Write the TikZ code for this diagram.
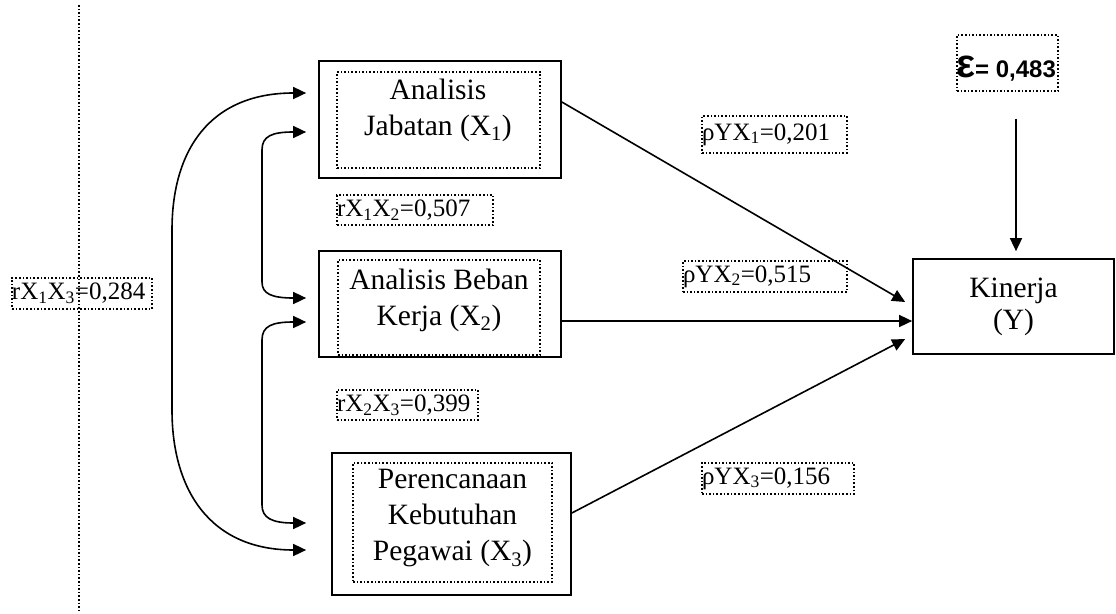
\documentclass[tikz,border=0pt]{standalone}
\usepackage{fontspec}
\setmainfont{Liberation Serif}
\newfontfamily\epsfont{Liberation Sans}
\usetikzlibrary{arrows.meta,calc}
\begin{document}
\begin{tikzpicture}[x=1pt,y=-1pt,
  box/.style={draw,line width=1.7pt,inner sep=0pt},
  dotbox/.style={draw,dotted,line width=1.6pt,inner sep=0pt},
  boxtext/.style={font=\fontsize{29.5}{36}\selectfont,align=center,inner sep=0pt},
  lbl/.style={draw,dotted,line width=1.6pt,inner sep=0pt,align=left,font=\fontsize{25}{28}\selectfont},
  arr/.style={line width=1.6pt,-{Triangle[length=13pt,width=12pt]}},
  darr/.style={line width=1.6pt,{Triangle[length=13pt,width=12pt]}-{Triangle[length=13pt,width=12pt]}}]
\useasboundingbox (0,0) rectangle (1116,613);

% vertical dotted guide line
\coordinate (vtop) at (79,5);
\coordinate (vbot) at (79,613);
\draw[dotted,line width=1.6pt] (vtop) -- (vbot);

% X1
\node[box,minimum width=242pt,minimum height=117pt] (b1) at (440,119.5) {};
\node[dotbox,minimum width=203pt,minimum height=96pt] (i1) at (438.5,120) {};
\node[boxtext] (t1) at (438,110) {Analisis\\Jabatan (X\textsubscript{1})};

% X2
\node[box,minimum width=242pt,minimum height=106pt] (b2) at (440,304) {};
\node[dotbox,minimum width=202pt,minimum height=95pt] (i2) at (439,307.5) {};
\node[boxtext] (t2) at (439,300) {Analisis Beban\\Kerja (X\textsubscript{2})};

% X3
\node[box,minimum width=239pt,minimum height=142pt] (b3) at (451.5,524) {};
\node[dotbox,minimum width=199pt,minimum height=119pt] (i3) at (452.5,522.5) {};
\node[boxtext] (t3) at (452.5,518.5) {Perencanaan\\Kebutuhan\\Pegawai (X\textsubscript{3})};

% Y
\node[box,minimum width=201pt,minimum height=95pt,font=\fontsize{29.5}{32}\selectfont,align=center] (Y) at (1013.5,306.5) {Kinerja\\(Y)};

% epsilon
\node[dotbox,minimum width=101pt,minimum height=56pt] (eps) at (1007.5,63) {};
\node[anchor=base west,inner sep=0pt] (epst) at (956,77) {\epsfont\bfseries\fontsize{40}{42}\selectfont ε\fontsize{24}{26}\selectfont= 0,483};

% labels
\node[lbl,minimum height=30pt,text width=156pt] (l12) at (415,210) {rX\textsubscript{1}X\textsubscript{2}=0,507};
\node[lbl,minimum height=30pt,text width=141pt] (l23) at (407.5,405) {rX\textsubscript{2}X\textsubscript{3}=0,399};
\node[lbl,minimum height=31pt,text width=140pt] (l13) at (82,293.5) {rX\textsubscript{1}X\textsubscript{3}=0,284};
\node[lbl,minimum height=37pt,text width=145pt] (p1) at (774.5,134.5) {ρYX\textsubscript{1}=0,201};
\node[lbl,minimum height=31pt,text width=164pt] (p2) at (765,276.5) {ρYX\textsubscript{2}=0,515};
\node[lbl,minimum height=31pt,text width=152pt] (p3) at (778,478.5) {ρYX\textsubscript{3}=0,156};

% paths to Y
\draw[arr] ([yshift=17.5pt]b1.east) -- ([xshift=-7pt,yshift=4.5pt]Y.west);
\draw[arr] ([yshift=-17pt]b2.east) -- ([yshift=-14.5pt]Y.west);
\draw[arr] ([yshift=11pt]b3.east) -- ([xshift=-7pt,yshift=-32.5pt]Y.west);

% epsilon arrow
\draw[arr] ([xshift=8.5pt,yshift=-27pt]eps.south) -- ([xshift=2.5pt,yshift=7pt]Y.north);

% correlations
\draw[darr] ([xshift=-12pt,yshift=26.5pt]b1.west) .. controls (210,93) and (172,150) .. (172,230) -- (172,410) .. controls (172,490) and (210,550) .. ([xshift=-25pt,yshift=-26pt]b3.west);
\draw[darr] ([xshift=-12pt,yshift=-12.5pt]b1.west) .. controls (272,132) and (262,136) .. (262,150) -- (262,282) .. controls (262,294) and (272,298) .. ([xshift=-12pt,yshift=6pt]b2.west);
\draw[darr] ([xshift=-12pt,yshift=-18pt]b2.west) .. controls (272,322) and (262,326) .. (262,340) -- (262,505) .. controls (262,518) and (272,523) .. ([xshift=-25pt,yshift=1pt]b3.west);
\end{tikzpicture}
\end{document}
